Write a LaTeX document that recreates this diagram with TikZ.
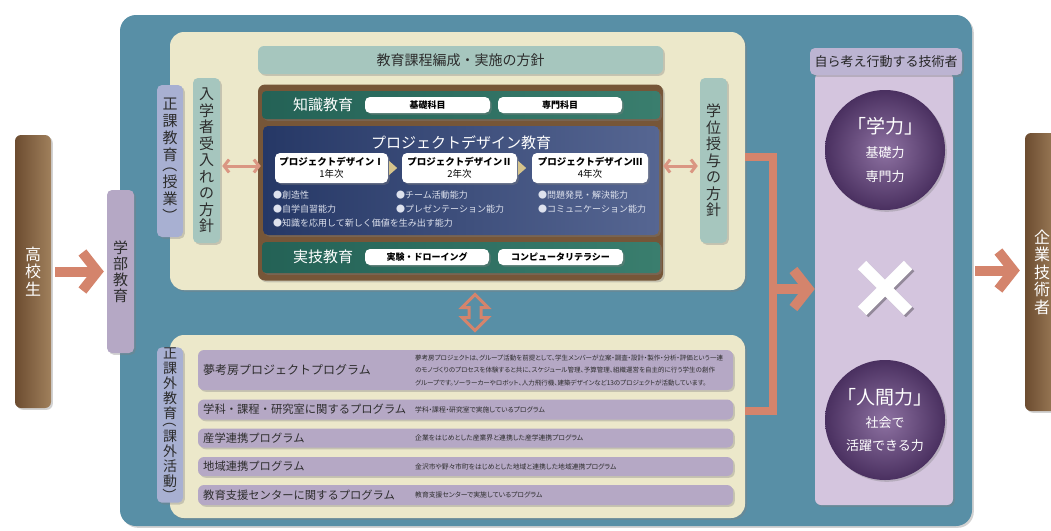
\documentclass[tikz,border=0pt]{standalone}
\usepackage{fontspec}
\usepackage{graphicx}
\setmainfont{Noto Sans CJK JP}
\newfontfamily\descfont[RawFeature=+palt]{Noto Sans CJK JP}
\usetikzlibrary{arrows.meta,shadows,calc}
\newcommand{\fsz}[2]{\fontsize{#1}{#2}\selectfont}
\newcommand{\vparo}{\rotatebox[origin=c]{-90}{（}}
\newcommand{\vparc}{\rotatebox[origin=c]{-90}{）}}
\definecolor{bgblue}{RGB}{88,143,166}
\definecolor{cream}{RGB}{236,232,202}
\definecolor{sage}{RGB}{166,198,190}
\definecolor{tabblue}{RGB}{168,176,210}
\definecolor{framec}{RGB}{118,86,56}
\definecolor{greenD}{RGB}{36,98,86}
\definecolor{greenL}{RGB}{58,126,110}
\definecolor{navyD}{RGB}{38,56,102}
\definecolor{navyL}{RGB}{86,102,146}
\definecolor{lav}{RGB}{181,168,197}
\definecolor{lavcol}{RGB}{212,197,222}
\definecolor{lablav}{RGB}{188,180,210}
\definecolor{brownD}{RGB}{108,76,48}
\definecolor{brownL}{RGB}{160,128,92}
\definecolor{salmon}{RGB}{212,132,108}
\definecolor{tanc}{RGB}{214,196,140}
\definecolor{purD}{RGB}{74,48,96}
\definecolor{purL}{RGB}{142,114,162}
\definecolor{txt}{RGB}{45,45,45}
\definecolor{bul}{RGB}{222,226,238}
\tikzset{
  sh/.style={drop shadow={opacity=0.35,shadow xshift=1.8pt,shadow yshift=-1.8pt}},
  panel/.style={rectangle, inner sep=0pt, sh},
  vtab/.style={panel, rounded corners=5pt, minimum width=27pt, align=center, text=txt},
  wbox/.style={panel, fill=white, rounded corners=5pt, minimum height=16pt, font=\bfseries\fsz{9}{9}, text=black},
  pdb/.style={panel, fill=white, rounded corners=5pt, minimum height=30pt, align=center, font=\bfseries\fsz{9.5}{12}, text=black},
  bult/.style={anchor=west, inner sep=0pt, font=\fsz{9}{9}, text=bul},
  rowb/.style={panel, fill=lav, rounded corners=6pt, minimum width=535pt},
  rowt/.style={anchor=west, inner sep=0pt, font=\fsz{11.3}{12}, text=txt},
  rowd/.style={anchor=west, inner sep=0pt, font=\descfont\fsz{6.8}{12}, text=txt, align=left},
  bigarr/.style={draw=salmon, line width=10pt, -{Straight Barb[length=15pt,width=38pt]}},
  smarr/.style={draw=salmon!85!white, line width=3pt, {Straight Barb[length=5pt,width=13pt]}-{Straight Barb[length=5pt,width=13pt]}},
  bracketline/.style={draw=salmon, line width=8pt}
}
\begin{document}
\begin{tikzpicture}[x=1pt,y=-1pt]
\useasboundingbox (0,0) rectangle (1051,530);
\fill[white] (0,0) rectangle (1051,530);

% main containers
\node[panel, fill=bgblue, rounded corners=16pt, minimum width=852pt, minimum height=511pt] (outer) at (546,270.5) {};
\node[panel, fill=cream, rounded corners=14pt, minimum width=575pt, minimum height=258pt] (topcream) at (457.5,161) {};
\node[panel, fill=cream, rounded corners=14pt, minimum width=575pt, minimum height=183pt] (botcream) at (457.5,426.5) {};

% side bars
\node[panel, rounded corners=6pt, left color=brownD, right color=brownL, minimum width=36pt, minimum height=273pt, align=center, text=white, font=\fsz{16}{17.5}] (kokosei) at (33,271.5) {高\\校\\生};
\node[vtab, fill=lav, minimum height=163pt, font=\fsz{15}{16}] (gakubu) at (120.5,271.5) {学\\部\\教\\育};
\node[panel, rounded corners=6pt, left color=brownD, right color=brownL, minimum width=34pt, minimum height=278pt, align=center, text=white, font=\fsz{16}{17.5}] (kigyo) at (1042,272) {企\\業\\技\\術\\者};

% upper block
\node[vtab, fill=tabblue, minimum width=26pt, minimum height=152pt, font=\fsz{15}{17}] (seika) at (170,161) {正\\課\\教\\育\\[-7pt]\vparo\\授\\業\\\vparc};
\node[vtab, fill=sage, minimum height=165pt, font=\fsz{15}{16.5}] (nyugaku) at (206.5,160.5) {入\\学\\者\\受\\入\\れ\\の\\方\\針};
\node[panel, fill=sage, rounded corners=6pt, minimum width=405pt, minimum height=28pt, font=\fsz{14}{14}, text=txt] (hoshin) at (460.5,60) {教育課程編成・実施の方針};
\node[panel, fill=framec, rounded corners=7pt, minimum width=405pt, minimum height=196pt] (frame) at (460.5,182.5) {};
\node[panel, rounded corners=4pt, left color=greenD, right color=greenL, minimum width=398pt, minimum height=28pt] (chishiki) at (461,105) {};
\node[inner sep=0pt, font=\fsz{15}{15}, text=white] (chtxt) at (323,105) {知識教育};
\node[wbox, minimum width=125pt] (kiso) at (427.5,105) {基礎科目};
\node[wbox, minimum width=124pt] (senmon) at (560,105) {専門科目};

\node[panel, rounded corners=5pt, left color=navyD, right color=navyL, minimum width=396pt, minimum height=109pt] (pdbox) at (461,180.5) {};
\node[inner sep=0pt, font=\fsz{15}{15}, text=white] (pdtitle) at (461,143) {プロジェクトデザイン教育};
\node[pdb, minimum width=113pt] (pd1) at (331.5,168) {プロジェクトデザインⅠ\\{\mdseries 1年次}};
\node[pdb, minimum width=115pt] (pd2) at (459.5,168) {プロジェクトデザインⅡ\\{\mdseries 2年次}};
\node[pdb, minimum width=116pt] (pd3) at (590,168) {プロジェクトデザインⅢ\\{\mdseries 4年次}};
\fill[tanc] ([xshift=1pt,yshift=7pt]pd1.east) -- ([xshift=9pt]pd1.east) -- ([xshift=1pt,yshift=-7pt]pd1.east) -- cycle;
\fill[tanc] ([xshift=1pt,yshift=7pt]pd2.east) -- ([xshift=9pt]pd2.east) -- ([xshift=1pt,yshift=-7pt]pd2.east) -- cycle;
\node[bult] (b1) at (273,195) {●創造性};
\node[bult] (b2) at (273,209) {●自学自習能力};
\node[bult] (b3) at (273,223) {●知識を応用して新しく価値を生み出す能力};
\node[bult] (b4) at (396,195) {●チーム活動能力};
\node[bult] (b5) at (396,209) {●プレゼンテーション能力};
\node[bult] (b6) at (538,195) {●問題発見・解決能力};
\node[bult] (b7) at (538,209) {●コミュニケーション能力};

\node[panel, rounded corners=4pt, left color=greenD, right color=greenL, minimum width=398pt, minimum height=31pt] (jitsugi) at (461,257.5) {};
\node[inner sep=0pt, font=\fsz{15}{15}, text=white] (jttxt) at (323,257) {実技教育};
\node[wbox, minimum width=124pt] (jikken) at (427,257) {実験・ドローイング};
\node[wbox, minimum width=125pt] (comp) at (560.5,257) {コンピュータリテラシー};

\node[vtab, fill=sage, minimum height=165pt, font=\fsz{15}{16.5}] (gakui) at (713.5,160.5) {学\\位\\授\\与\\の\\方\\針};

% lower block
\node[vtab, fill=tabblue, minimum width=26pt, minimum height=154pt, font=\fsz{14}{15}] (kagai) at (170,425) {正\\課\\外\\教\\育\\[-7pt]\vparo\\課\\外\\活\\動\\\vparc};
\node[rowb, minimum height=40pt] (r1) at (465.5,370) {};
\node[rowb, minimum height=20pt] (r2) at (465.5,409.5) {};
\node[rowb, minimum height=19pt] (r3) at (465.5,438) {};
\node[rowb, minimum height=19pt] (r4) at (465.5,466.5) {};
\node[rowb, minimum height=20pt] (r5) at (465.5,495) {};
\node[rowt, font=\fsz{12}{12}] (t1) at (203,370) {夢考房プロジェクトプログラム};
\node[rowt] (t2) at (203,409.5) {学科・課程・研究室に関するプログラム};
\node[rowt] (t3) at (203,438) {産学連携プログラム};
\node[rowt] (t4) at (203,466.5) {地域連携プログラム};
\node[rowt] (t5) at (203,495) {教育支援センターに関するプログラム};
\node[rowd, font=\descfont\fsz{6.5}{12.5}] (d1) at (415,370.5) {夢考房プロジェクトは、グループ活動を前提として、学生メンバーが立案・調査・設計・製作・分析・評価という一連\\のモノづくりのプロセスを体験すると共に、スケジュール管理、予算管理、組織運営を自主的に行う学生の創作\\グループです。ソーラーカーやロボット、人力飛行機、建築デザインなど13のプロジェクトが活動しています。};
\node[rowd] (d2) at (415,409.5) {学科・課程・研究室で実施しているプログラム};
\node[rowd] (d3) at (415,438) {企業をはじめとした産業界と連携した産学連携プログラム};
\node[rowd] (d4) at (415,466.5) {金沢市や野々市町をはじめとした地域と連携した地域連携プログラム};
\node[rowd] (d5) at (415,495) {教育支援センターで実施しているプログラム};

% right column
\node[panel, fill=lavcol, rounded corners=6pt, minimum width=138pt, minimum height=432pt] (column) at (884,289) {};
\node[panel, fill=lablav, rounded corners=5pt, minimum width=152pt, minimum height=27pt, font=\fsz{13}{13}, text=black!85] (jiko) at (886,61.5) {自ら考え行動する技術者};
\node[circle, sh, inner sep=0pt, minimum size=120pt, inner color=purL, outer color=purD, text=white, align=center, font=\fsz{13}{24}] (gakuryoku) at (885,150) {{\fsz{19}{24}「学力」}\\基礎力\\専門力};
\node[circle, sh, inner sep=0pt, minimum size=120pt, inner color=purL, outer color=purD, text=white, align=center, font=\fsz{13}{23}] (ningen) at (885,420) {{\fsz{19}{23}「人間力」}\\社会で\\活躍できる力};
\coordinate (xmark) at (885,288);
\draw[black, opacity=0.3, line width=12pt] ($(xmark)+(-21,-21)$) -- ($(xmark)+(25,25)$);
\draw[black, opacity=0.3, line width=12pt] ($(xmark)+(25,-21)$) -- ($(xmark)+(-21,25)$);
\draw[white, line width=12pt] ($(xmark)+(-23,-23)$) -- ($(xmark)+(23,23)$);
\draw[white, line width=12pt] ($(xmark)+(23,-23)$) -- ($(xmark)+(-23,23)$);

% connectors
\draw[bigarr, shorten <=4pt, shorten >=3pt] (kokosei) -- (gakubu);
\draw[bigarr, shorten <=3pt, shorten >=5pt] (outer.east) -- (outer.east -| kigyo.west);
\draw[smarr, shorten <=2pt, shorten >=2pt] ([yshift=-5.5pt]nyugaku.east) -- ([yshift=14.5pt]pdbox.west);
\draw[smarr, shorten <=4pt, shorten >=2pt] ([yshift=14.5pt]pdbox.east) -- ([yshift=-5.5pt]gakui.west);
\draw[bracketline] ([yshift=4pt]topcream.east) -- ++(28,0) |- ([yshift=16pt]botcream.east);
\coordinate (bk) at (773,289);
\draw[bigarr] (bk) -- (column.west |- bk);
\coordinate (va) at ($(topcream.south)!0.5!(botcream.north)+(17.5,0)$);
\draw[salmon, line width=3pt, line join=miter] ($(va)+(0,-18)$) -- ($(va)+(13,-5)$) -- ($(va)+(6,-5)$) -- ($(va)+(6,5)$) -- ($(va)+(13,5)$) -- ($(va)+(0,18)$) -- ($(va)+(-13,5)$) -- ($(va)+(-6,5)$) -- ($(va)+(-6,-5)$) -- ($(va)+(-13,-5)$) -- cycle;
\end{tikzpicture}
\end{document}
